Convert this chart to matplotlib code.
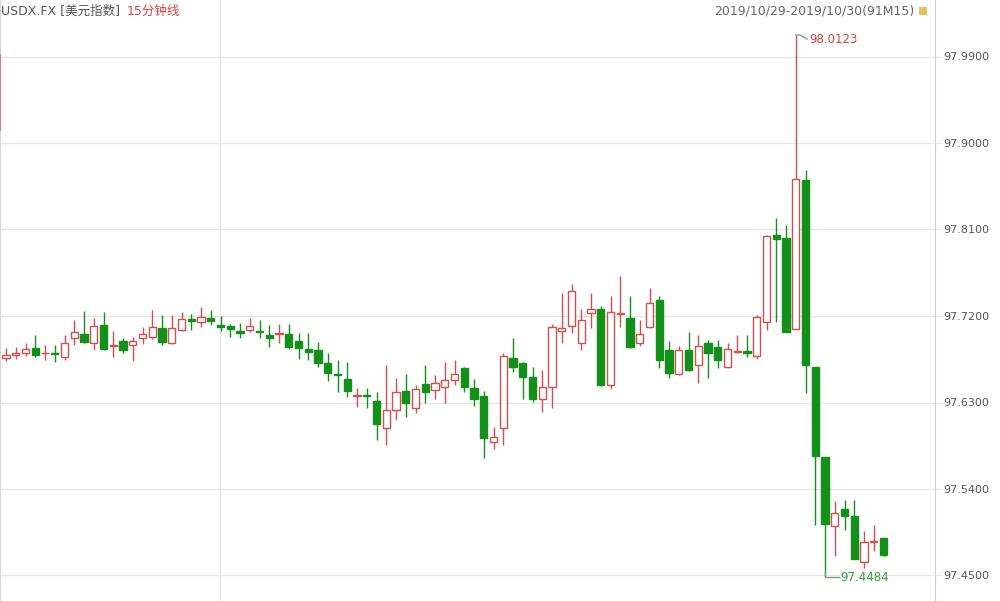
import matplotlib
matplotlib.use("Agg")
import matplotlib.pyplot as plt
import numpy as np

plt.rcParams['font.family'] = ['DejaVu Sans', 'Noto Sans CJK SC']

# ---- data (15-minute candles, 2019/10/29-2019/10/30) ----
opens = [97.676, 97.679, 97.682, 97.687, 97.681, 97.681, 97.677, 97.697, 97.701, 97.692,
         97.711, 97.689, 97.694, 97.690, 97.697, 97.698, 97.708, 97.692, 97.705, 97.717,
         97.714, 97.718, 97.711, 97.710, 97.704, 97.705, 97.704, 97.700, 97.701, 97.701,
         97.694, 97.686, 97.685, 97.671, 97.660, 97.654, 97.637, 97.638, 97.632, 97.603,
         97.622, 97.642, 97.624, 97.649, 97.643, 97.646, 97.653, 97.666, 97.645, 97.637,
         97.589, 97.603, 97.676, 97.671, 97.657, 97.634, 97.646, 97.704, 97.710, 97.692,
         97.723, 97.727, 97.648, 97.722, 97.718, 97.692, 97.709, 97.737, 97.685, 97.660,
         97.685, 97.669, 97.692, 97.688, 97.667, 97.683, 97.684, 97.678, 97.714, 97.804,
         97.801, 97.706, 97.861, 97.667, 97.573, 97.501, 97.519, 97.512, 97.464, 97.485,
         97.489]
closes = [97.679, 97.682, 97.686, 97.679, 97.682, 97.680, 97.692, 97.703, 97.693, 97.710,
          97.686, 97.690, 97.685, 97.694, 97.701, 97.709, 97.693, 97.707, 97.717, 97.715,
          97.719, 97.715, 97.709, 97.706, 97.702, 97.710, 97.703, 97.697, 97.702, 97.688,
          97.687, 97.683, 97.671, 97.661, 97.659, 97.642, 97.638, 97.637, 97.608, 97.622,
          97.641, 97.630, 97.644, 97.641, 97.650, 97.653, 97.660, 97.646, 97.634, 97.593,
          97.594, 97.678, 97.667, 97.657, 97.634, 97.646, 97.709, 97.707, 97.746, 97.716,
          97.727, 97.648, 97.724, 97.723, 97.688, 97.701, 97.734, 97.674, 97.661, 97.685,
          97.664, 97.689, 97.681, 97.674, 97.686, 97.684, 97.682, 97.719, 97.803, 97.800,
          97.703, 97.863, 97.669, 97.574, 97.504, 97.515, 97.512, 97.467, 97.485, 97.486,
          97.471]
highs = [97.687, 97.688, 97.692, 97.700, 97.690, 97.690, 97.700, 97.716, 97.725, 97.718,
         97.724, 97.704, 97.697, 97.698, 97.709, 97.726, 97.721, 97.721, 97.724, 97.722,
         97.729, 97.726, 97.720, 97.712, 97.713, 97.718, 97.716, 97.711, 97.712, 97.712,
         97.702, 97.702, 97.693, 97.681, 97.674, 97.672, 97.645, 97.645, 97.641, 97.669,
         97.656, 97.660, 97.648, 97.669, 97.659, 97.672, 97.674, 97.667, 97.654, 97.642,
         97.605, 97.682, 97.697, 97.672, 97.667, 97.664, 97.712, 97.744, 97.753, 97.727,
         97.744, 97.730, 97.741, 97.762, 97.741, 97.716, 97.749, 97.741, 97.694, 97.689,
         97.703, 97.700, 97.695, 97.695, 97.692, 97.700, 97.700, 97.721, 97.804, 97.822,
         97.815, 98.0123, 97.872, 97.667, 97.573, 97.527, 97.529, 97.529, 97.496, 97.503,
         97.489]
lows = [97.673, 97.675, 97.678, 97.677, 97.674, 97.672, 97.674, 97.690, 97.692, 97.685,
        97.685, 97.677, 97.681, 97.673, 97.691, 97.696, 97.690, 97.691, 97.704, 97.705,
        97.709, 97.711, 97.704, 97.698, 97.697, 97.703, 97.697, 97.688, 97.692, 97.686,
        97.675, 97.674, 97.667, 97.652, 97.641, 97.636, 97.625, 97.624, 97.591, 97.586,
        97.612, 97.615, 97.619, 97.629, 97.634, 97.629, 97.648, 97.641, 97.626, 97.572,
        97.582, 97.586, 97.662, 97.634, 97.631, 97.620, 97.624, 97.692, 97.702, 97.685,
        97.707, 97.647, 97.644, 97.709, 97.687, 97.689, 97.708, 97.666, 97.655, 97.659,
        97.663, 97.650, 97.656, 97.666, 97.666, 97.681, 97.677, 97.675, 97.705, 97.714,
        97.703, 97.706, 97.640, 97.503, 97.4484, 97.470, 97.497, 97.467, 97.458, 97.475,
        97.470]

y_ticks = [97.45, 97.54, 97.63, 97.72, 97.81, 97.90, 97.99]
y_tick_labels = ["97.4500", "97.5400", "97.6300", "97.7200", "97.8100", "97.9000", "97.9900"]
title_left = "USDX.FX [美元指数]"
title_period = "15分钟线"
title_right = "2019/10/29-2019/10/30(91M15)"
max_label = "98.0123"
min_label = "97.4484"
day_split_index = 22

# ---- styling ----
RED = "#d0504f"
GREEN = "#12901a"
GRID = "#e6e6e6"
TEXT = "#555555"

W, H = 1000, 601
fig = plt.figure(figsize=(W / 100, H / 100), dpi=100)
ax_right_px = 935
ax = fig.add_axes([0, 0, ax_right_px / W, 1])

o = np.array(opens); c = np.array(closes); hi = np.array(highs); lo = np.array(lows)
x = np.arange(len(o))
up = c >= o

# y scale: 97.72 at px 316, 0.09 per 86.5 px
ppx = 0.09 / 86.5
ax.set_ylim(97.72 - (H - 316) * ppx, 97.72 + 316 * ppx)
# x scale: first candle at px 6, spacing 9.75 px
sp = 9.75
ax.set_xlim(-6 / sp, (ax_right_px - 6) / sp)

# grid
for t in y_ticks:
    ax.axhline(t, color=GRID, lw=1, zorder=0)
ax.axvline(day_split_index - 0.05, color=GRID, lw=1, zorder=0)

# wicks
ax.vlines(x[up], lo[up], hi[up], color=RED, lw=1, zorder=1)
ax.vlines(x[~up], lo[~up], hi[~up], color=GREEN, lw=1, zorder=1)

# bodies
bw = 0.72
body_bottom = np.minimum(o, c)
body_h = np.maximum(np.abs(c - o), 0.0006)
ax.bar(x[up], body_h[up], bottom=body_bottom[up], width=bw, facecolor="white",
       edgecolor=RED, linewidth=1, zorder=2)
ax.bar(x[~up], body_h[~up], bottom=body_bottom[~up], width=bw, facecolor=GREEN,
       edgecolor=GREEN, linewidth=1, zorder=2)

# axes styling
for s in ["top", "bottom"]:
    ax.spines[s].set_visible(False)
ax.spines["left"].set_color("#d8d8d8")
ax.spines["right"].set_color("#cfcfcf")
ax.yaxis.tick_right()
ax.set_yticks(y_ticks)
ax.set_yticklabels(y_tick_labels)
ax.tick_params(axis="y", length=5, color=GRID, pad=1, labelsize=8, labelcolor=TEXT)
ax.set_xticks([])

# small red mark on the left border
ax.plot([-6 / sp + 0.05] * 2, [97.72 + (316 - 130) * ppx, 97.72 + (316 - 55) * ppx],
        color="#e06060", lw=1.2, zorder=3, clip_on=False)

# max annotation
imax = int(np.argmax(hi))
ax.plot([imax, imax + 0.45, imax + 1.15], [hi[imax], hi[imax], hi[imax] - 4 * ppx],
        color="#5fa6b8", lw=1, zorder=3)
ax.text(imax + 1.4, hi[imax] - 4.5 * ppx, max_label, color="#cc4040", fontsize=8.5,
        va="center", ha="left", zorder=4)

# min annotation
imin = int(np.argmin(lo))
ax.plot([imin, imin, imin + 1.4], [lo[imin] + 7 * ppx, lo[imin], lo[imin]],
        color="#7aa07a", lw=1, zorder=3)
ax.text(imin + 1.6, lo[imin], min_label, color="#3a9a3a", fontsize=8.5,
        va="center", ha="left", zorder=4)

# header texts
fig.text(1 / W, 1 - 11 / H, title_left, color="#555555", fontsize=9, va="center", ha="left")
fig.text(127 / W, 1 - 11 / H, title_period, color="#e04040", fontsize=9, va="center", ha="left")
fig.text(914 / W, 1 - 11 / H, title_right, color="#666666", fontsize=9, va="center", ha="right")
fig.patches.append(plt.Rectangle((919 / W, 1 - 15 / H), 8 / W, 8 / H, transform=fig.transFigure,
                                 facecolor="#e8c25a", edgecolor="none"))

fig.savefig("out.png", dpi=100)
